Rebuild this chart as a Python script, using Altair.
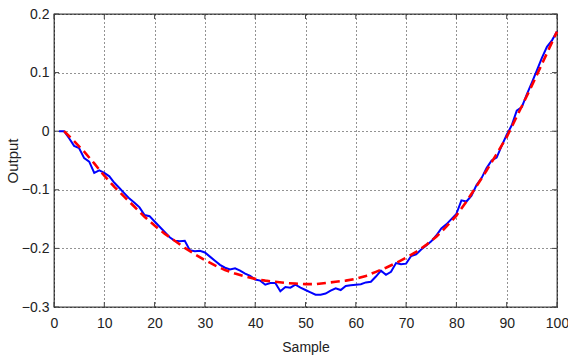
import altair as alt
import pandas as pd

# Measured output (blue), samples 1..100
sample = list(range(1, 101))
measured = [
    0.000, 0.000, -0.012, -0.025, -0.029, -0.046, -0.052, -0.071, -0.067, -0.071,
    -0.077, -0.088, -0.097, -0.106, -0.115, -0.122, -0.130, -0.143, -0.145, -0.154,
    -0.163, -0.172, -0.181, -0.187, -0.188, -0.187, -0.203, -0.205, -0.204, -0.207,
    -0.214, -0.221, -0.228, -0.233, -0.236, -0.234, -0.238, -0.243, -0.247, -0.253,
    -0.255, -0.262, -0.259, -0.259, -0.273, -0.266, -0.267, -0.262, -0.267, -0.271,
    -0.275, -0.279, -0.279, -0.277, -0.272, -0.268, -0.271, -0.264, -0.263, -0.262,
    -0.261, -0.258, -0.257, -0.248, -0.238, -0.245, -0.240, -0.225, -0.227, -0.226,
    -0.213, -0.210, -0.202, -0.195, -0.188, -0.178, -0.166, -0.159, -0.150, -0.141,
    -0.118, -0.120, -0.110, -0.092, -0.080, -0.063, -0.050, -0.045, -0.025, -0.006,
    0.010, 0.035, 0.041, 0.063, 0.083, 0.104, 0.125, 0.144, 0.155, 0.170,
]

# Model output (red dashed)
model_x = list(range(2, 101, 2))
model_y = [
    0.000, -0.017, -0.035, -0.055, -0.076, -0.095, -0.112, -0.129, -0.146, -0.161,
    -0.175, -0.187, -0.199, -0.210, -0.220, -0.229, -0.237, -0.243, -0.248, -0.252,
    -0.255, -0.257, -0.259, -0.260, -0.261, -0.261, -0.259, -0.257, -0.255, -0.252,
    -0.247, -0.240, -0.233, -0.225, -0.216, -0.206, -0.194, -0.180, -0.163, -0.144,
    -0.120, -0.094, -0.067, -0.039, -0.010, 0.025, 0.060, 0.096, 0.133, 0.170,
]

x_ticks = [0, 10, 20, 30, 40, 50, 60, 70, 80, 90, 100]
y_ticks = [-0.3, -0.2, -0.1, 0.0, 0.1, 0.2]

W, H = 503, 293
FRAME = "#444444"
FONT = "Liberation Sans, Arial, sans-serif"

xs = alt.Scale(domain=[0, 100], nice=False, zero=False)
ys = alt.Scale(domain=[-0.3, 0.2], nice=False, zero=False)

xaxis = alt.Axis(values=x_ticks, title="Sample", grid=True, domain=False, ticks=False,
                 labelFont=FONT, labelFontSize=14, labelColor="#222",
                 labelPadding=9, labelFlush=False,
                 titleFont=FONT, titleFontSize=14, titleFontWeight="normal",
                 titleColor="#222", titleY=44, titleBaseline="alphabetic")
yaxis = alt.Axis(values=y_ticks, title="Output", grid=True, domain=False, ticks=False,
                 labelFont=FONT, labelFontSize=14, labelColor="#222",
                 labelPadding=5, labelFlush=False,
                 labelExpr="datum.value == 0 ? '0' : format(datum.value, '.1f')",
                 titleFont=FONT, titleFontSize=15,
                 titleFontWeight="normal", titleColor="#222",
                 titleX=-37, titleBaseline="alphabetic")

df_meas = pd.DataFrame({"x": sample, "y": measured})
df_model = pd.DataFrame({"x": model_x, "y": model_y})
df_xt = pd.DataFrame({"x": x_ticks})
df_yt = pd.DataFrame({"y": y_ticks})

blue = alt.Chart(df_meas).mark_line(color="#0000FF", strokeWidth=2).encode(
    x=alt.X("x:Q", scale=xs, axis=xaxis),
    y=alt.Y("y:Q", scale=ys, axis=yaxis),
)
red = alt.Chart(df_model).mark_line(color="#FF0000", strokeWidth=2.6, strokeDash=[9, 5]).encode(
    x=alt.X("x:Q", scale=xs),
    y=alt.Y("y:Q", scale=ys),
)

tick_bottom = alt.Chart(df_xt).mark_rule(color=FRAME, strokeWidth=1).encode(
    x=alt.X("x:Q", scale=xs), y=alt.value(H), y2=alt.value(H - 5))
tick_top = alt.Chart(df_xt).mark_rule(color=FRAME, strokeWidth=1).encode(
    x=alt.X("x:Q", scale=xs), y=alt.value(0), y2=alt.value(5))
tick_left = alt.Chart(df_yt).mark_rule(color=FRAME, strokeWidth=1).encode(
    y=alt.Y("y:Q", scale=ys), x=alt.value(0), x2=alt.value(5))
tick_right = alt.Chart(df_yt).mark_rule(color=FRAME, strokeWidth=1).encode(
    y=alt.Y("y:Q", scale=ys), x=alt.value(W), x2=alt.value(W - 5))

chart = alt.layer(tick_bottom, tick_top, tick_left, tick_right, blue, red).properties(
    width=W, height=H,
    autosize=alt.AutoSizeParams(type="none"),
    padding={"left": 54, "top": 14, "right": 11, "bottom": 49},
    background="white",
).configure_view(
    stroke=FRAME, strokeWidth=1.3
).configure_axis(
    gridColor="#000000", gridOpacity=0.85, gridDash=[1, 3], gridWidth=1,
)

chart.save("out.html", embed_options={"renderer": "svg", "actions": False})
